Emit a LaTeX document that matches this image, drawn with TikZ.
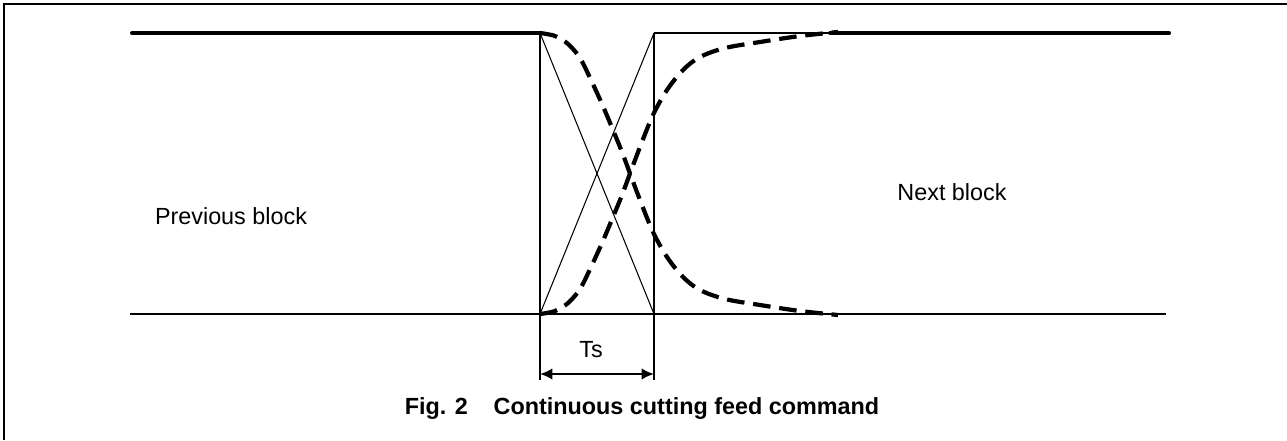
\documentclass[tikz,border=0pt]{standalone}
\usepackage{fontspec}
\setmainfont{Liberation Sans}
\usetikzlibrary{arrows.meta}

\begin{document}
\begin{tikzpicture}[
    x=0.02cm, y=-0.02cm,
    font=\fontsize{13.3}{16}\selectfont,
    frame/.style={line width=1.1pt},
    guide/.style={line width=0.6pt},
    axis/.style={line width=1.1pt},
    feed/.style={line width=2.3pt},
    ramp/.style={line width=2.4pt,dash pattern=on 10pt off 5pt,smooth,tension=0.55},
    dimarrow/.style={{Latex[length=7pt,width=6.5pt]}-{Latex[length=7pt,width=6.5pt]},line width=1.1pt}
  ]
    \useasboundingbox (0,0) rectangle (1287,440);
    % frame (only top and left edge visible)
    \draw[frame] (3,4) -- (1287,4);
    \draw[frame] (4,3) -- (4,440);

    % points of the time axis
    \coordinate (ta) at (540,33);
    \coordinate (tb) at (654,33);
    \coordinate (ba) at (540,314);
    \coordinate (bb) at (654,314);
    \coordinate (ts-l) at (540,374);
    \coordinate (ts-r) at (654,374);

    % feed levels
    \draw[feed,line cap=round] (132,33) -- (ta);
    \draw[guide] (tb) -- (830,33);
    \draw[feed,line cap=round] (830,33) -- (1169,33);
    \draw[axis] (130,314) -- (1166,314);

    % linear change over Ts
    \draw[guide] (540,33) -- (540,380);
    \draw[guide] (654,33) -- (654,380);
    \draw[guide] (ta) -- (bb);
    \draw[guide] (ba) -- (tb);

    % smoothed change
    \draw[ramp] plot coordinates {(540,33) (555,36) (568,44) (580,58) (591,80) (602,104)
      (613,130) (622,152) (630,173.5) (640,200) (653,232) (667,257) (683,277)
      (700,290) (725,299) (760,305) (800,311) (838,315)};
    \draw[ramp] plot coordinates {(540,314) (555,311) (568,303) (580,289) (591,267) (602,243)
      (613,217) (622,195) (630,173.5) (640,147) (653,115) (667,90) (683,70)
      (700,57) (725,48) (760,42) (800,36) (838,32)};

    \draw[dimarrow] (ts-l) -- (ts-r);

    \node (prev) at (231,216) {Previous block};
    \node (next) at (952,192) {Next block};
    \node (ts) at (591,350) {Ts};
    \node[font=\fontsize{13.3}{16}\selectfont\bfseries] (cap) at (642,408)
      {Fig. 2\hspace{1.1em}Continuous cutting feed command};
\end{tikzpicture}
\end{document}
